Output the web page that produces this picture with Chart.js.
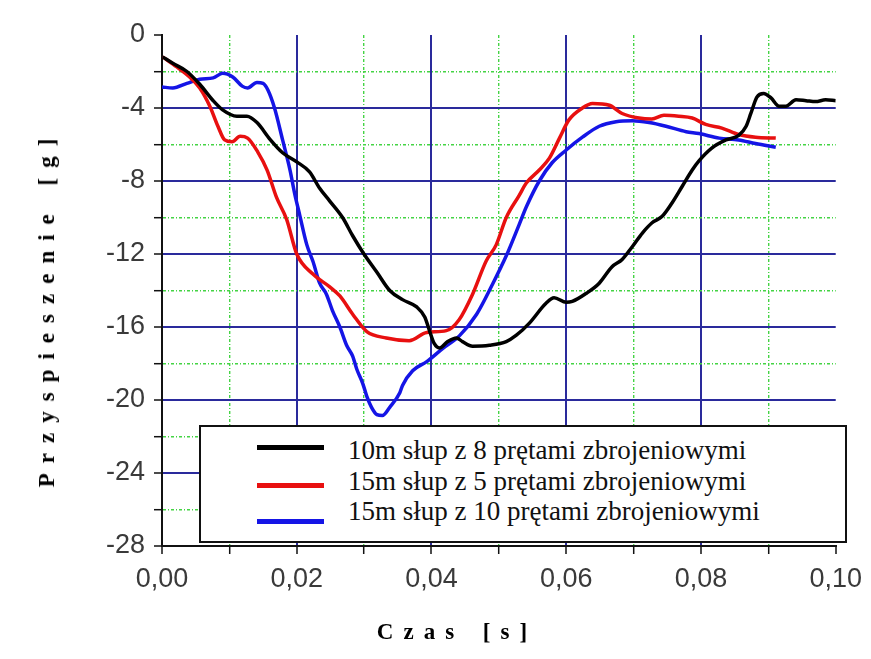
<!DOCTYPE html>
<html>
<head>
<meta charset="utf-8">
<script src="https://cdn.jsdelivr.net/npm/chart.js@4.4.0/dist/chart.umd.min.js"></script>
<style>
  body { margin: 0; background: #fff; }
  #wrap { position: relative; width: 871px; height: 659px; }
  #chart { position: absolute; left: 0; top: 0; }
  .axis-title {
    position: absolute; white-space: nowrap; color: #000;
    font: bold 23px "Liberation Serif", "DejaVu Serif", serif;
    letter-spacing: 10px; word-spacing: 3px;
  }
  #legend {
    position: absolute; left: 199px; top: 425px; width: 648px; height: 118px;
    box-sizing: border-box; border: 2px solid #111; background: #fff;
  }
  #legend .swatch { position: absolute; left: 56px; width: 67px; height: 5px; }
  #legend .label {
    position: absolute; left: 147px; white-space: nowrap; color: #111;
    font: 27px "Liberation Serif", "DejaVu Serif", serif; line-height: 1;
  }
</style>
</head>
<body>
<div id="wrap">
  <canvas id="chart" width="871" height="659"></canvas>
  <div id="ytitle" class="axis-title"></div>
  <div id="xtitle" class="axis-title"></div>
  <div id="legend"></div>
</div>
<script>
const seriesNames = [
  "10m słup z 8 prętami zbrojeniowymi",
  "15m słup z 5 prętami zbrojeniowymi",
  "15m słup z 10 prętami zbrojeniowymi",
];
const seriesColors = ["#000000", "#e81010", "#1515e6"];
const yTitle = "Przyspieszenie [g]";
const xTitle = "Czas [s]";

const xTickLabels = ["0,00", "0,02", "0,04", "0,06", "0,08", "0,10"];
const yTickLabels = ["0", "-4", "-8", "-12", "-16", "-20", "-24", "-28"];

// 10m, 8 prętów
const czas1 = [0.0001, 0.0016, 0.0037, 0.0056, 0.0076, 0.0090, 0.0111, 0.0126, 0.0141, 0.0160,
  0.0179, 0.0200, 0.0219, 0.0234, 0.0249, 0.0268, 0.0283, 0.0298, 0.0319, 0.0338,
  0.0357, 0.0378, 0.0390, 0.0397, 0.0404, 0.0412, 0.0424, 0.0437, 0.0446, 0.0461,
  0.0486, 0.0511, 0.0526, 0.0545, 0.0570, 0.0582, 0.0600, 0.0609, 0.0630, 0.0649,
  0.0668, 0.0683, 0.0698, 0.0713, 0.0727, 0.0742, 0.0757, 0.0772, 0.0787, 0.0797,
  0.0816, 0.0837, 0.0856, 0.0867, 0.0874, 0.0883, 0.0893, 0.0904, 0.0916, 0.0926,
  0.0941, 0.0956, 0.0970, 0.0985, 0.1000];
const przysp1 = [-1.2, -1.55, -2.0, -2.7, -3.6, -4.1, -4.45, -4.45, -4.8, -5.7,
  -6.45, -6.95, -7.5, -8.4, -9.1, -10.0, -11.0, -11.9, -13.0, -14.0,
  -14.5, -14.9, -15.45, -16.2, -16.9, -17.15, -16.8, -16.6, -16.8, -17.05,
  -17.0, -16.8, -16.45, -15.8, -14.7, -14.4, -14.65, -14.6, -14.15, -13.6,
  -12.7, -12.3, -11.6, -10.85, -10.3, -9.95, -9.2, -8.3, -7.4, -6.9,
  -6.2, -5.75, -5.5, -5.0, -4.3, -3.4, -3.2, -3.45, -3.9, -3.9,
  -3.55, -3.6, -3.65, -3.55, -3.6];

// 15m, 5 prętów
const czas2 = [0.0001, 0.0022, 0.0041, 0.0056, 0.0071, 0.0083, 0.0093, 0.0104, 0.0116, 0.0127,
  0.0142, 0.0156, 0.0170, 0.0185, 0.0200, 0.0224, 0.0249, 0.0264, 0.0283, 0.0304,
  0.0333, 0.0367, 0.0393, 0.0422, 0.0441, 0.0461, 0.0481, 0.0496, 0.0511, 0.0530,
  0.0541, 0.0560, 0.0575, 0.0590, 0.0604, 0.0624, 0.0639, 0.0664, 0.0683, 0.0708,
  0.0727, 0.0745, 0.0767, 0.0787, 0.0807, 0.0831, 0.0856, 0.0881, 0.0911];
const przysp2 = [-1.2, -1.75, -2.3, -2.9, -3.9, -5.0, -5.75, -5.85, -5.55, -5.65,
  -6.4, -7.4, -8.9, -10.1, -12.0, -13.1, -13.8, -14.3, -15.3, -16.25,
  -16.6, -16.75, -16.3, -16.2, -15.6, -14.2, -12.4, -11.5, -10.0, -8.8,
  -8.1, -7.4, -6.75, -5.65, -4.65, -4.0, -3.75, -3.85, -4.3, -4.55,
  -4.6, -4.4, -4.45, -4.55, -4.9, -5.1, -5.45, -5.6, -5.65];

// 15m, 10 prętów
const czas3 = [0.0000, 0.0016, 0.0037, 0.0056, 0.0076, 0.0090, 0.0105, 0.0119, 0.0127, 0.0141,
  0.0150, 0.0157, 0.0167, 0.0179, 0.0190, 0.0197, 0.0204, 0.0215, 0.0224, 0.0234,
  0.0244, 0.0253, 0.0264, 0.0274, 0.0283, 0.0289, 0.0298, 0.0304, 0.0311, 0.0319,
  0.0327, 0.0338, 0.0353, 0.0357, 0.0372, 0.0393, 0.0416, 0.0441, 0.0467, 0.0490,
  0.0511, 0.0530, 0.0541, 0.0560, 0.0579, 0.0600, 0.0624, 0.0649, 0.0674, 0.0698,
  0.0723, 0.0748, 0.0778, 0.0797, 0.0827, 0.0856, 0.0881, 0.0911];
const przysp3 = [-2.85, -2.9, -2.65, -2.42, -2.35, -2.1, -2.3, -2.8, -2.9, -2.6,
  -2.65, -3.0, -4.0, -5.75, -7.4, -8.7, -9.8, -11.5, -12.4, -13.6,
  -14.2, -15.1, -16.0, -17.0, -17.6, -18.3, -19.1, -19.8, -20.4, -20.8,
  -20.85, -20.4, -19.6, -19.2, -18.4, -17.9, -17.2, -16.5, -15.3, -13.7,
  -12.1, -10.4, -9.4, -8.0, -7.0, -6.3, -5.6, -5.0, -4.75, -4.7,
  -4.8, -5.0, -5.3, -5.4, -5.65, -5.75, -5.95, -6.15];

const serie = [[czas1, przysp1], [czas2, przysp2], [czas3, przysp3]];

const kolorGlowny = "#2a2a9c";
const kolorPomocniczy = "#44d444";

const jestGlownyX = (v) => Math.round(v * 100) % 2 === 0;
const jestGlownyY = (v) => Math.round(v) % 4 === 0;

function osX() {
  return {
    type: "linear",
    min: 0,
    max: 0.1,
    afterFit: (scale) => { scale.height = 113; },
    ticks: {
      stepSize: 0.01,
      autoSkip: false,
      maxRotation: 0,
      padding: 9,
      color: "#3a3a3a",
      font: { family: "'Liberation Sans', Arial, sans-serif", size: 27 },
      callback: (v) => (jestGlownyX(v) ? xTickLabels[Math.round(v * 50)] : ""),
    },
    grid: {
      drawTicks: true,
      tickLength: 8,
      tickColor: "#111",
      tickWidth: 1.5,
      color: (ctx) => {
        if (!ctx.tick) return kolorGlowny;
        const v = ctx.tick.value;
        if (v <= 0.0001 || v >= 0.0999) return "rgba(0,0,0,0)";
        return jestGlownyX(v) ? kolorGlowny : kolorPomocniczy;
      },
      lineWidth: (ctx) => (ctx.tick && jestGlownyX(ctx.tick.value) ? 2 : 1.4),
    },
    border: {
      display: true,
      color: "#111",
      width: 2,
      dash: (ctx) => (ctx.tick && !jestGlownyX(ctx.tick.value) ? [3, 2, 1, 2] : []),
    },
  };
}

function osY() {
  return {
    type: "linear",
    min: -28,
    max: 0,
    afterFit: (scale) => { scale.width = 162; },
    ticks: {
      stepSize: 2,
      autoSkip: false,
      padding: 9,
      color: "#3a3a3a",
      font: { family: "'Liberation Sans', Arial, sans-serif", size: 27 },
      callback: (v) => (jestGlownyY(v) ? yTickLabels[Math.round(-v / 4)] : ""),
    },
    grid: {
      drawTicks: true,
      tickLength: 8,
      tickColor: "#111",
      tickWidth: 1.5,
      color: (ctx) => {
        if (!ctx.tick) return kolorGlowny;
        const v = ctx.tick.value;
        if (v >= -0.01 || v <= -27.99) return "rgba(0,0,0,0)";
        return jestGlownyY(v) ? kolorGlowny : kolorPomocniczy;
      },
      lineWidth: (ctx) => (ctx.tick && jestGlownyY(ctx.tick.value) ? 2 : 1.4),
    },
    border: {
      display: true,
      color: "#111",
      width: 2,
      dash: (ctx) => (ctx.tick && !jestGlownyY(ctx.tick.value) ? [3, 2, 1, 2] : []),
    },
  };
}

const ctx = document.getElementById("chart").getContext("2d");

new Chart(ctx, {
  type: "line",
  data: {
    datasets: serie.map(([czas, wart], i) => ({
      label: seriesNames[i],
      data: czas.map((t, k) => ({ x: t, y: wart[k] })),
      borderColor: seriesColors[i],
      borderWidth: 3.5,
      pointRadius: 0,
      fill: false,
      cubicInterpolationMode: "monotone",
    })),
  },
  options: {
    responsive: false,
    animation: false,
    layout: { padding: { top: 35, right: 34, bottom: 0, left: 0 } },
    plugins: { legend: { display: false }, tooltip: { enabled: false } },
    scales: { x: osX(), y: osY() },
  },
});

// tytuły osi
const yt = document.getElementById("ytitle");
yt.textContent = yTitle;
yt.style.left = "47px";
yt.style.top = "308px";
yt.style.transform = "translate(-50%, -50%) rotate(-90deg)";

const xt = document.getElementById("xtitle");
xt.textContent = xTitle;
xt.style.left = "457px";
xt.style.top = "632px";
xt.style.transform = "translate(-50%, -50%)";

// legenda
const legenda = document.getElementById("legend");
const probkaY = [18, 56, 92];
const tekstY = [10, 41, 71];
seriesNames.forEach((nazwa, i) => {
  const sw = document.createElement("div");
  sw.className = "swatch";
  sw.style.top = probkaY[i] + "px";
  sw.style.background = seriesColors[i];
  legenda.appendChild(sw);

  const lb = document.createElement("span");
  lb.className = "label";
  lb.style.top = tekstY[i] + "px";
  lb.textContent = nazwa;
  legenda.appendChild(lb);
});
</script>
</body>
</html>
